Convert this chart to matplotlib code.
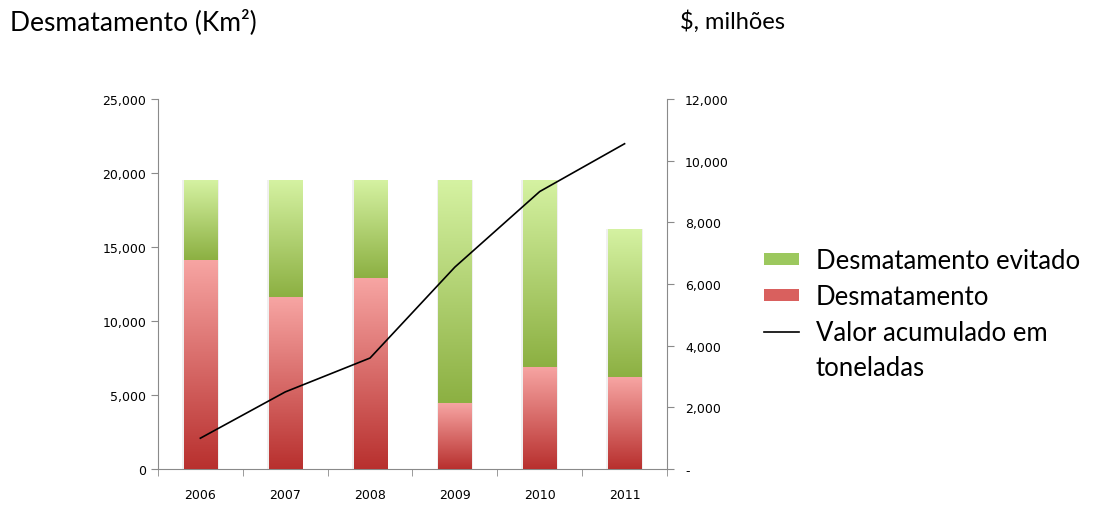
import numpy as np
import matplotlib
matplotlib.use("Agg")
import matplotlib.pyplot as plt
from matplotlib.patches import Patch
from matplotlib.lines import Line2D
from matplotlib.colors import LinearSegmentedColormap
from matplotlib.ticker import FuncFormatter

years = ["2006", "2007", "2008", "2009", "2010", "2011"]
desmatamento = [14150, 11600, 12900, 4450, 6900, 6200]
evitado = [5350, 7900, 6600, 15050, 12600, 10000]
valor_acumulado = [1000, 2500, 3600, 6550, 9000, 10550]

plt.rcParams['font.family'] = ['Lato', 'DejaVu Sans']

fig = plt.figure(figsize=(11.03, 5.06), dpi=100)
ax = fig.add_axes([0.1432, 0.0711, 0.4615, 0.7312])
ax2 = ax.twinx()

x = np.arange(len(years))
w = 0.39
red_cmap = LinearSegmentedColormap.from_list("r", ["#b8302e", "#f7a5a3"])
green_cmap = LinearSegmentedColormap.from_list("g", ["#8cb042", "#d5f2a2"])
grad = np.linspace(0, 1, 256).reshape(-1, 1)

bars_r = ax.bar(x, desmatamento, w, color="none", edgecolor="none", zorder=2)
bars_g = ax.bar(x, evitado, w, bottom=desmatamento, color="none", edgecolor="none", zorder=2)
for bars, cmap in ((bars_r, red_cmap), (bars_g, green_cmap)):
    for b in bars:
        x0, y0 = b.get_x(), b.get_y()
        x1, y1 = x0 + b.get_width(), y0 + b.get_height()
        ax.add_patch(plt.Rectangle((x0 - 0.02, y0), (x1 - x0) + 0.04, y1 - y0,
                                   facecolor="#f0f0f0", edgecolor="none", zorder=1))
        ax.imshow(grad, extent=(x0, x1, y0, y1), origin="lower", cmap=cmap,
                  aspect="auto", zorder=3, interpolation="bilinear")

ax.set_xlim(-0.5, len(years) - 0.5)
ax.set_ylim(0, 25000)
ax.set_yticks(np.arange(0, 25001, 5000))
ax.yaxis.set_major_formatter(FuncFormatter(lambda v, p: f"{int(v):,}"))
ax.set_xticks(x)
ax.set_xticklabels(years, fontsize=9, family=['DejaVu Sans'])
ax.set_xticks(np.arange(-0.5, len(years), 1), minor=True)
ax.tick_params(axis='x', which='major', length=0, pad=14)
ax.tick_params(axis='x', which='minor', length=5, color="#8a8a8a", direction="out")
ax.tick_params(axis='y', length=5, color="#8a8a8a", labelsize=9)
for lbl in ax.get_yticklabels():
    lbl.set_family(['DejaVu Sans'])

ax2.plot(x, valor_acumulado, color="black", lw=1.2, zorder=5)
ax2.set_ylim(0, 12000)
ax2.set_yticks(np.arange(0, 12001, 2000))
ax2.yaxis.set_major_formatter(FuncFormatter(lambda v, p: "-" if v == 0 else f"{int(v):,}"))
ax2.tick_params(axis='y', length=5, color="#8a8a8a", labelsize=9, pad=8)
for lbl in ax2.get_yticklabels():
    lbl.set_family(['DejaVu Sans'])

for a in (ax, ax2):
    a.spines['top'].set_visible(False)
    for s in ('left', 'right', 'bottom'):
        a.spines[s].set_color("#8a8a8a")
ax.spines['right'].set_visible(False)
ax2.spines['left'].set_visible(False)
ax2.spines['bottom'].set_visible(False)
ax.set_zorder(1)
ax2.set_zorder(2)
ax2.patch.set_visible(False)

fig.text(10 / 1103, 1 - 22 / 506, "Desmatamento (Km²)", fontsize=19, va="center", ha="left")
fig.text(680 / 1103, 1 - 22 / 506, "$, milhões", fontsize=17, va="center", ha="left")

handles = [Patch(facecolor="#9cc85e", edgecolor="none"),
           Patch(facecolor="#d9605e", edgecolor="none"),
           Line2D([0], [0], color="black", lw=1.2),
           Patch(facecolor="none", edgecolor="none")]
labels = ["Desmatamento evitado", "Desmatamento", "Valor acumulado em", "toneladas"]
leg = fig.legend(handles, labels, loc="upper left", bbox_to_anchor=(741 / 1103, 1 - 226 / 506),
                 frameon=False, fontsize=18.5, handlelength=1.35, handleheight=0.35,
                 handletextpad=0.65, labelspacing=0.42)

fig.savefig("out.png", dpi=100)
